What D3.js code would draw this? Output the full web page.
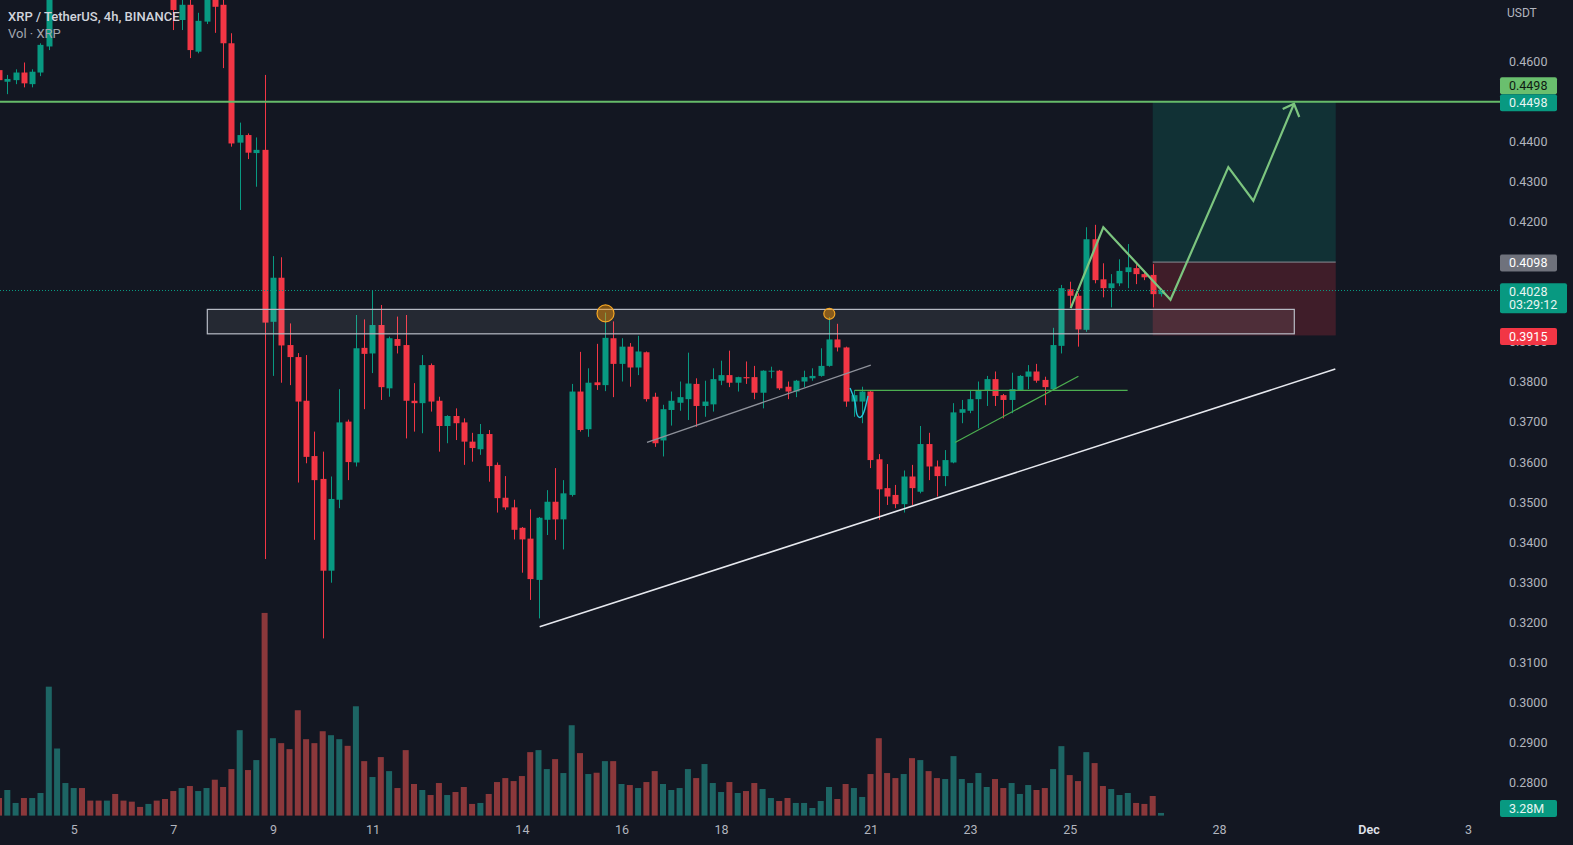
<!DOCTYPE html>
<html><head><meta charset="utf-8">
<script src="https://cdn.jsdelivr.net/npm/d3@7"></script>
<style>html,body{margin:0;padding:0;background:#131722;overflow:hidden}
text{font-family:Roboto,"Noto Sans",sans-serif}</style>
</head><body><svg id="c" width="1573" height="845"></svg>
<script>
// ---------- DATA ----------
const firstBarUTC = Date.UTC(2022, 10, 3, 12); // XRP/USDT 4h bars, first visible bar
const barHours = 4;
const opens  = [0.4577,0.4548,0.4552,0.4571,0.4542,0.4571,0.4636,0.4780,0.4860,0.4920,0.4970,0.4920,0.4890,0.4860,0.4890,0.4840,0.4820,0.4800,0.4790,0.4810,0.4790,
0.4785,0.4702,0.4740,0.4623,0.4698,0.4775,0.4740,0.4644,0.4396,0.4415,0.4370,0.4378,
0.3949,0.4059,0.3891,0.3861,0.3752,0.3614,0.3557,0.3328,0.3505,0.3700,0.3598,0.3884,0.3870,0.3941,0.3783,0.3906,0.3891,0.3752,0.3746,0.3841,0.3752,0.3689,0.3714,0.3698,0.3650,0.3631,0.3669,0.3592,0.3510,0.3486,0.3435,0.3408,0.3305,0.3455,0.3500,0.3456,0.3517,0.3775,0.3681,0.3798,0.3791,0.3908,0.3844,0.3887,0.3835,0.3873,0.3762,0.3653,0.3729,0.3747,0.3756,0.3794,0.3739,0.3743,0.3802,0.3816,0.3797,0.3811,0.3811,0.3772,0.3825,0.3827,0.3787,0.3775,0.3800,0.3808,0.3814,0.3839,0.3905,0.3885,0.3750,0.3750,0.3775,0.3606,0.3534,0.3517,0.3494,0.3563,0.3525,0.3644,0.3588,0.3564,0.3598,0.3722,0.3727,0.3756,0.3777,0.3806,0.3766,0.3754,0.3779,0.3812,0.3825,0.3804,0.3781,0.3889,0.4030,0.4014,0.3929,0.4155,0.4055,0.4033,0.4045,0.4073,0.4083,0.4068,0.4066,0.4018];
const highs  = [0.4595,0.4565,0.4579,0.4596,0.4579,0.4644,0.4800,0.4880,0.4940,0.4990,0.4985,0.4940,0.4910,0.4905,0.4900,0.4860,0.4840,0.4815,0.4825,0.4820,0.4805,
0.4800,0.4760,0.4770,0.4720,0.4790,0.4800,0.4760,0.4669,0.4446,0.4419,0.4409,0.4565,
0.4113,0.4110,0.3945,0.3871,0.3866,0.3675,0.3625,0.3563,0.3781,0.3705,0.3966,0.3955,0.4028,0.3991,0.3912,0.3962,0.3966,0.3796,0.3866,0.3845,0.3762,0.3716,0.3733,0.3708,0.3672,0.3694,0.3679,0.3598,0.3564,0.3505,0.3437,0.3481,0.3462,0.3529,0.3584,0.3554,0.3794,0.3874,0.3833,0.3894,0.3972,0.3950,0.3908,0.3896,0.3914,0.3875,0.3772,0.3742,0.3775,0.3800,0.3872,0.3808,0.3802,0.3833,0.3852,0.3877,0.3812,0.3850,0.3839,0.3828,0.3837,0.3829,0.3800,0.3804,0.3827,0.3833,0.3883,0.3961,0.3944,0.3887,0.3779,0.3787,0.3777,0.3619,0.3594,0.3542,0.3578,0.3592,0.3689,0.3672,0.3603,0.3629,0.3746,0.3754,0.3779,0.3800,0.3814,0.3825,0.3769,0.3822,0.3816,0.3841,0.3844,0.3812,0.3934,0.4041,0.4049,0.4020,0.4185,0.4191,0.4095,0.4068,0.4105,0.4143,0.4093,0.4077,0.4093,0.4032];
const lows   = [0.4547,0.4517,0.4542,0.4534,0.4534,0.4562,0.4627,0.4770,0.4840,0.4900,0.4900,0.4870,0.4840,0.4845,0.4825,0.4805,0.4790,0.4780,0.4780,0.4775,0.4765,
0.4677,0.4677,0.4607,0.4619,0.4692,0.4670,0.4582,0.4386,0.4228,0.4355,0.4286,0.3357,
0.3814,0.3797,0.3791,0.3548,0.3596,0.3405,0.3159,0.3298,0.3484,0.3554,0.3588,0.3731,0.3821,0.3754,0.3762,0.3870,0.3658,0.3675,0.3671,0.3725,0.3625,0.3646,0.3654,0.3592,0.3600,0.3617,0.3550,0.3473,0.3480,0.3406,0.3323,0.3255,0.3209,0.3417,0.3405,0.3381,0.3513,0.3675,0.3662,0.3779,0.3776,0.3761,0.3800,0.3787,0.3816,0.3750,0.3637,0.3613,0.3690,0.3727,0.3704,0.3687,0.3712,0.3725,0.3791,0.3786,0.3775,0.3794,0.3756,0.3733,0.3808,0.3779,0.3756,0.3761,0.3786,0.3802,0.3812,0.3837,0.3875,0.3737,0.3712,0.3696,0.3584,0.3455,0.3492,0.3484,0.3473,0.3492,0.3521,0.3554,0.3513,0.3539,0.3596,0.3696,0.3721,0.3683,0.3739,0.3739,0.3708,0.3721,0.3777,0.3781,0.3797,0.3741,0.3779,0.3870,0.3987,0.3887,0.3924,0.4045,0.4010,0.3985,0.4038,0.4033,0.4043,0.4053,0.3985,0.4012];
const closes = [0.4552,0.4555,0.4571,0.4544,0.4573,0.4640,0.4780,0.4860,0.4920,0.4970,0.4920,0.4890,0.4860,0.4890,0.4840,0.4820,0.4800,0.4790,0.4810,0.4790,0.4785,
0.4727,0.4740,0.4627,0.4700,0.4770,0.4735,0.4644,0.4394,0.4415,0.4371,0.4378,0.3947,
0.4059,0.3890,0.3861,0.3750,0.3612,0.3554,0.3328,0.3507,0.3698,0.3599,0.3883,0.3869,0.3941,0.3786,0.3908,0.3889,0.3752,0.3746,0.3841,0.3750,0.3689,0.3714,0.3696,0.3650,0.3634,0.3669,0.3589,0.3509,0.3486,0.3430,0.3406,0.3307,0.3460,0.3500,0.3456,0.3521,0.3775,0.3679,0.3797,0.3791,0.3909,0.3844,0.3887,0.3835,0.3875,0.3756,0.3646,0.3731,0.3752,0.3761,0.3795,0.3739,0.3750,0.3806,0.3816,0.3797,0.3811,0.3808,0.3772,0.3827,0.3827,0.3783,0.3775,0.3802,0.3811,0.3814,0.3839,0.3905,0.3885,0.3750,0.3766,0.3775,0.3604,0.3531,0.3513,0.3494,0.3563,0.3534,0.3644,0.3588,0.3564,0.3604,0.3723,0.3731,0.3756,0.3777,0.3806,0.3764,0.3754,0.3781,0.3814,0.3825,0.3802,0.3786,0.3891,0.4033,0.4014,0.3930,0.4155,0.4053,0.4033,0.4045,0.4076,0.4085,0.4068,0.4060,0.4018,0.4028];
const volumesM = [21.7,31.6,15.6,21.7,21.7,27.9,159.1,82.8,40.2,34.0,34.0,18.5,18.5,18.5,26.7,18.5,17.2,10.7,14.4,18.5,20.5,
30.3,34.0,36.5,30.3,34.0,44.3,35.3,57.4,105.4,56.2,68.5,250.1,
95.5,89.4,82.0,130.0,94.3,89.4,104.1,99.2,94.3,86.1,134.9,67.2,47.6,72.2,54.9,34.0,80.8,39.0,31.6,25.4,40.2,25.4,29.1,35.3,14.4,15.6,26.7,41.4,46.3,42.6,48.8,78.3,80.8,57.4,69.7,52.5,111.5,77.1,51.3,52.9,67.2,67.2,39.0,37.7,34.0,41.4,54.9,39.0,31.6,34.0,57.4,46.3,63.6,40.2,29.1,41.4,27.9,30.3,40.2,32.8,21.7,18.0,21.7,15.6,15.6,9.4,18.0,35.3,20.5,39.0,34.0,23.0,51.3,95.5,52.5,46.3,51.3,70.9,68.5,54.9,46.3,45.1,73.4,45.1,40.2,52.5,35.3,45.1,34.0,40.2,26.7,37.7,31.6,34.0,57.4,85.7,50.0,42.6,78.3,64.8,36.5,32.8,25.4,27.9,15.6,14.4,24.2,3.28];

// visible price-scale ticks (0.40, 0.41 and 0.45 are hidden behind the price tags)
const priceTicks = [0.28,0.29,0.30,0.31,0.32,0.33,0.34,0.35,0.36,0.37,0.38,0.39,0.42,0.43,0.44,0.46];
const timeTickDates  = ["2022-11-05","2022-11-07","2022-11-09","2022-11-11","2022-11-14","2022-11-16","2022-11-18","2022-11-21","2022-11-23","2022-11-25","2022-11-28","2022-12-01","2022-12-03"];
const timeTickLabels = ["5","7","9","11","14","16","18","21","23","25","28","Dec","3"];

// drawings: [day-of-November (fractional), price]
const resistanceLine = 0.4498;
const zoneBox = {from: 7.683, to: 29.51, top: 0.3980, bottom: 0.3919};
const supportTrend = [[14.357, 0.3188], [30.334, 0.3831]];
const channelLine  = [[16.512, 0.3648], [21.006, 0.3841]];
const greenFlat    = [[20.683, 0.3778], [26.163, 0.3778]];
const greenRising  = [[22.697, 0.3648], [25.175, 0.3813]];
const cyanMark     = [[20.588, 0.3784], [20.709, 0.3749], [20.705, 0.3719], [20.789, 0.3706], [20.869, 0.3719], [20.950, 0.3764]];
const zigzag       = [[25.020, 0.3983], [25.675, 0.4185], [27.024, 0.4004], [28.185, 0.4335], [28.687, 0.4251], [29.504, 0.4493]];
const arrowWings   = [[29.277, 0.4480], [29.504, 0.4493], [29.610, 0.4460]];
const circles      = [[15.679, 0.3970, 8.5], [20.173, 0.3969, 5.5]];
const position     = {from: 26.667, to: 30.342, entry: 0.4098, target: 0.4498, stop: 0.3915};
const lastPrice = 0.4028, countdown = "03:29:12", lastVolLabel = "3.28M";

// ---------- SCALES ----------
const W = 1573, H = 845, plotRight = 1492;
const dayT = d => new Date(Date.UTC(2022, 10, 1) + (d - 1) * 86400000);
const x = d3.scaleUtc().domain([Date.UTC(2022,10,5), Date.UTC(2022,11,3)]).range([73.7, 1468.1]);
const y = d3.scaleLinear().domain([0.28, 0.46]).range([782.3, 60.9]);
const yv = d3.scaleLinear().domain([0, 250]).range([815.6, 613]);
const bars = opens.map((o, i) => ({
  t: new Date(firstBarUTC + i * barHours * 3600000),
  o, h: highs[i], l: lows[i], c: closes[i], v: volumesM[i]
}));

const UP = "#089981", DN = "#f23645";
const svg = d3.select("#c");
svg.append("rect").attr("width", W).attr("height", H).attr("fill", "#131722");
svg.append("defs").append("clipPath").attr("id", "plot")
  .append("rect").attr("x", 0).attr("y", 0).attr("width", plotRight).attr("height", 818);
const g = svg.append("g").attr("clip-path", "url(#plot)");

// volume
g.append("g").selectAll("rect").data(bars).join("rect")
  .attr("x", d => x(d.t) - 3).attr("width", 6)
  .attr("y", d => yv(d.v)).attr("height", d => yv(0) - yv(d.v))
  .attr("fill", d => d.c >= d.o ? "rgba(38,166,154,0.55)" : "rgba(239,83,80,0.55)");

// position tool
const pX0 = x(dayT(position.from)), pX1 = x(dayT(position.to));
g.append("rect").attr("x", pX0).attr("width", pX1 - pX0)
  .attr("y", y(position.target)).attr("height", y(position.entry) - y(position.target))
  .attr("fill", "rgba(8,153,129,0.2)");
g.append("rect").attr("x", pX0).attr("width", pX1 - pX0)
  .attr("y", y(position.entry)).attr("height", y(position.stop) - y(position.entry))
  .attr("fill", "rgba(242,54,69,0.2)");
g.append("line").attr("x1", pX0).attr("x2", pX1).attr("y1", y(position.entry)).attr("y2", y(position.entry))
  .attr("stroke", "#8a8d96").attr("stroke-width", 1);

// candles
const cg = g.append("g");
cg.selectAll("line").data(bars).join("line")
  .attr("x1", d => Math.round(x(d.t)) + 0.5).attr("x2", d => Math.round(x(d.t)) + 0.5)
  .attr("y1", d => y(d.h)).attr("y2", d => y(d.l))
  .attr("stroke", d => d.c >= d.o ? UP : DN).attr("stroke-width", 1);
cg.selectAll("rect").data(bars).join("rect")
  .attr("x", d => Math.round(x(d.t)) - 2.5).attr("width", 6)
  .attr("y", d => y(Math.max(d.o, d.c)))
  .attr("height", d => Math.max(1, Math.abs(y(d.o) - y(d.c))))
  .attr("fill", d => d.c >= d.o ? UP : DN);

// zone rectangle
g.append("rect").attr("x", x(dayT(zoneBox.from))).attr("width", x(dayT(zoneBox.to)) - x(dayT(zoneBox.from)))
  .attr("y", y(zoneBox.top)).attr("height", y(zoneBox.bottom) - y(zoneBox.top))
  .attr("fill", "rgba(255,255,255,0.08)").attr("stroke", "#b8bcc6").attr("stroke-width", 1.2);

const line = d3.line().x(p => x(dayT(p[0]))).y(p => y(p[1]));
g.append("path").attr("d", line(supportTrend)).attr("stroke", "#e6e8ee").attr("stroke-width", 1.6).attr("fill", "none");
g.append("path").attr("d", line(channelLine)).attr("stroke", "#8f929b").attr("stroke-width", 1.2).attr("fill", "none");
g.append("path").attr("d", line(greenFlat)).attr("stroke", "#4caf50").attr("stroke-width", 1.2).attr("fill", "none");
g.append("path").attr("d", line(greenRising)).attr("stroke", "#4caf50").attr("stroke-width", 1.2).attr("fill", "none");
g.append("path").attr("d", d3.line().curve(d3.curveBasis).x(p => x(dayT(p[0]))).y(p => y(p[1]))(cyanMark))
  .attr("stroke", "#26c6da").attr("stroke-width", 1.4).attr("fill", "none");
g.append("path").attr("d", line(zigzag)).attr("stroke", "#7cc57f").attr("stroke-width", 2.2).attr("fill", "none")
  .attr("stroke-linejoin", "miter");
g.append("path").attr("d", line(arrowWings)).attr("stroke", "#7cc57f").attr("stroke-width", 2.2).attr("fill", "none");
g.selectAll("circle.mk").data(circles).join("circle").attr("class", "mk")
  .attr("cx", p => x(dayT(p[0]))).attr("cy", p => y(p[1])).attr("r", p => p[2])
  .attr("fill", "rgba(255,152,0,0.45)").attr("stroke", "#f5a623").attr("stroke-width", 1.2);

// resistance line + current price dotted line
svg.append("line").attr("x1", 0).attr("x2", 1500).attr("y1", y(resistanceLine)).attr("y2", y(resistanceLine))
  .attr("stroke", "#66bb6a").attr("stroke-width", 2);
svg.append("line").attr("x1", 0).attr("x2", 1500).attr("y1", Math.round(y(lastPrice)) + 0.5).attr("y2", Math.round(y(lastPrice)) + 0.5)
  .attr("stroke", "#089981").attr("stroke-width", 1).attr("stroke-dasharray", "1,2");

// ---------- AXES ----------
const yAxis = d3.axisRight(y).tickValues(priceTicks).tickFormat(d3.format(".4f")).tickSize(0).tickPadding(0);
const ya = svg.append("g").attr("transform", "translate(1509,0)").call(yAxis);
ya.select(".domain").remove();
ya.selectAll("text").attr("fill", "#b2b5be").attr("font-size", 12.5).attr("dy", "0.35em");

const xAxis = d3.axisBottom(x).tickValues(timeTickDates.map(s => new Date(s + "T00:00:00Z")))
  .tickFormat((d, i) => timeTickLabels[i]).tickSize(0).tickPadding(0);
const xa = svg.append("g").attr("transform", "translate(0,830)").call(xAxis);
xa.select(".domain").remove();
xa.selectAll("text").attr("fill", (d, i) => timeTickLabels[i] === "Dec" ? "#e0e3eb" : "#b2b5be")
  .attr("font-weight", (d, i) => timeTickLabels[i] === "Dec" ? 600 : 400)
  .attr("font-size", 12.5).attr("dy", "0.35em");

svg.append("text").attr("x", 1507).attr("y", 13).attr("dy", "0.35em").attr("fill", "#b2b5be")
  .attr("font-size", 12).text("USDT");

// price labels
function tag(cy, h, w, bg, fg, lines) {
  const gg = svg.append("g");
  gg.append("rect").attr("x", 1500).attr("y", cy - h / 2).attr("width", w).attr("height", h).attr("rx", 2).attr("fill", bg);
  lines.forEach((s, i) => gg.append("text").attr("x", 1509).attr("y", cy - (lines.length - 1) * 6.5 + i * 13)
    .attr("dy", "0.35em").attr("font-size", 12.5).attr("fill", fg).text(s));
}
const f4 = d3.format(".4f");
tag(y(position.target) - 16, 17, 57, "#6abf6e", "#0f1a12", [f4(position.target)]);
tag(y(resistanceLine) + 1, 17, 57, "#089981", "#e8f5f2", [f4(resistanceLine)]);
tag(y(position.entry) + 1, 17, 57, "#6f727c", "#ffffff", [f4(position.entry)]);
tag(y(lastPrice) + 8, 30, 67, "#089981", "#e8f5f2", [f4(lastPrice), countdown]);
tag(y(position.stop) + 1, 17, 57, "#f23645", "#ffffff", [f4(position.stop)]);
tag(808.5, 17, 57, "#089981", "#e8f5f2", [lastVolLabel]);

// legend
svg.append("text").attr("x", 8).attr("y", 16).attr("dy", "0.35em").attr("fill", "#d1d4dc")
  .attr("font-size", 13).attr("font-weight", 500).text("XRP / TetherUS, 4h, BINANCE");
svg.append("text").attr("x", 8).attr("y", 33).attr("dy", "0.35em").attr("fill", "#a3a6af")
  .attr("font-size", 13).text("Vol · XRP");
</script></body></html>
